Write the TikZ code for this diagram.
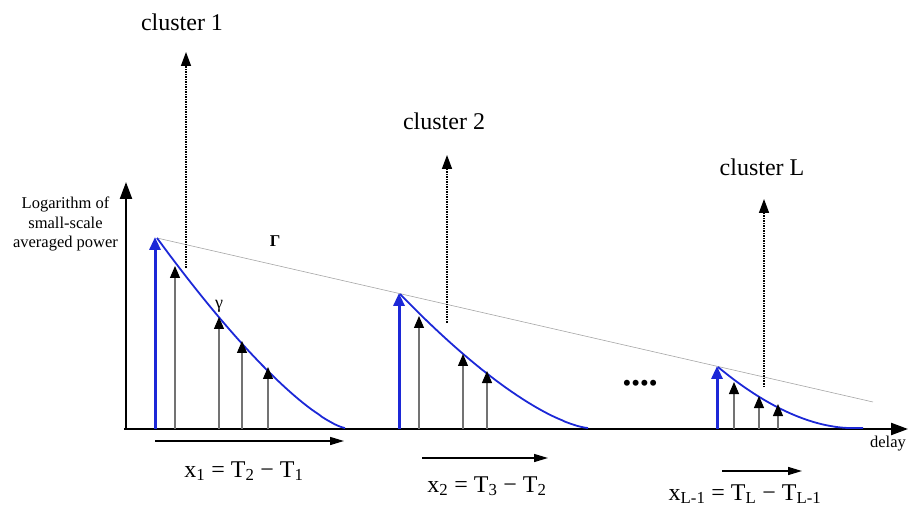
\documentclass[tikz,border=0pt]{standalone}
\usepackage{fontspec}
\setmainfont{Liberation Serif}
\usetikzlibrary{arrows.meta}
\definecolor{cblue}{RGB}{28,40,215}
\begin{document}
\begin{tikzpicture}[x=1pt,y=-1pt,
  axisline/.style={line width=2.3pt,-{Triangle[length=17pt,width=12pt]}},
  leadray/.style={cblue,line width=3pt,-{Triangle[length=13pt,width=11pt]}},
  ray/.style={black!55,line width=1.2pt,-{Triangle[length=12pt,width=10pt,color=black]}},
  clusterline/.style={densely dotted,line width=1.5pt,-{Triangle[length=14pt,width=10pt]}},
  decay/.style={cblue,line width=1.8pt},
  spanarrow/.style={line width=1.4pt,-{Triangle[length=14pt,width=8pt]}},
  big/.style={font=\fontsize{24}{28}\selectfont,inner sep=0pt},
  small/.style={font=\fontsize{16.5}{19.5}\selectfont,inner sep=0pt}]
\useasboundingbox (0,0) rectangle (910,510);

% axes
\coordinate (o) at (126,429);
\coordinate (ytop) at (126,182);
\coordinate (xleft) at (124,429);
\coordinate (xright) at (908,429);
\draw[axisline] (o) -- (ytop);
\draw[axisline] (xleft) -- (xright);

% y label
\node[small,anchor=base] (yl1) at (65.5,209) {Logarithm of};
\node[small,anchor=base] (yl2) at (65.5,228.5) {small-scale};
\node[small,anchor=base] (yl3) at (65.5,248) {averaged power};
\node[small,anchor=base] (dl) at (888,447) {delay};

% Gamma line
\coordinate (g0) at (157,238);
\coordinate (g1) at (873,402);
\draw[black!35,line width=0.6pt] (g0) -- (g1);
\node[small,anchor=base] (Gam) at (275,247) {\textbf{Γ}};
\node[font=\fontsize{18}{20}\selectfont,inner sep=0pt] (gam) at (219,306) {γ};

% cluster 1
\draw[decay] plot[domain=0:187,samples=60] ({157+\x},{428-190*(1-\x/188)^1.35}) -- (345,428);
\coordinate (b1) at (155,429); \coordinate (t1) at (155,237);
\draw[leadray] (b1) -- (t1);
\foreach \x/\y in {175/266,219/317,242/341,268/367}{
  \coordinate (rb) at (\x,429); \coordinate (rt) at (\x,\y);
  \draw[ray] (rb) -- (rt);}
\coordinate (d1b) at (186,268); \coordinate (d1t) at (186,52);
\draw[clusterline] (d1b) -- (d1t);
\node[big,anchor=base] (c1) at (182,31) {cluster 1};

% cluster 2
\draw[decay] plot[domain=0:187,samples=60] ({400+\x},{428-134*(1-\x/188)^1.45}) -- (588,428);
\coordinate (b2) at (399,429); \coordinate (t2) at (399,293);
\draw[leadray] (b2) -- (t2);
\foreach \x/\y in {419/316,463/354,487/371}{
  \coordinate (rb) at (\x,429); \coordinate (rt) at (\x,\y);
  \draw[ray] (rb) -- (rt);}
\coordinate (d2b) at (447,323); \coordinate (d2t) at (447,155);
\draw[clusterline] (d2b) -- (d2t);
\node[big,anchor=base] (c2) at (444,130) {cluster 2};

% dots
\node[font=\fontsize{25}{30}\selectfont,inner sep=0pt] (dots) at (640,386) {••••};

% cluster L
\draw[decay] plot[domain=0:131,samples=50] ({718+\x},{428-61*(1-\x/132)^1.8}) -- (863,428);
\coordinate (bL) at (717,429); \coordinate (tL) at (717,366);
\draw[leadray] (bL) -- (tL);
\foreach \x/\y in {734/382,759/396,778/404}{
  \coordinate (rb) at (\x,429); \coordinate (rt) at (\x,\y);
  \draw[ray] (rb) -- (rt);}
\coordinate (dLb) at (764,387); \coordinate (dLt) at (764,199);
\draw[clusterline] (dLb) -- (dLt);
\node[big,anchor=base] (cL) at (762,176) {cluster L};

% spans
\coordinate (s1a) at (155,441); \coordinate (s1b) at (344,441);
\draw[spanarrow] (s1a) -- (s1b);
\node[big,anchor=base] (x1) at (244,477) {x\textsubscript{1} = T\textsubscript{2} − T\textsubscript{1}};
\coordinate (s2a) at (422,458); \coordinate (s2b) at (548,458);
\draw[spanarrow] (s2a) -- (s2b);
\node[big,anchor=base] (x2) at (487,492) {x\textsubscript{2} = T\textsubscript{3} − T\textsubscript{2}};
\coordinate (sLa) at (722,471); \coordinate (sLb) at (802,471);
\draw[spanarrow] (sLa) -- (sLb);
\node[big,anchor=base] (xL) at (745,500) {x\textsubscript{L-1} = T\textsubscript{L} − T\textsubscript{L-1}};
\end{tikzpicture}
\end{document}
